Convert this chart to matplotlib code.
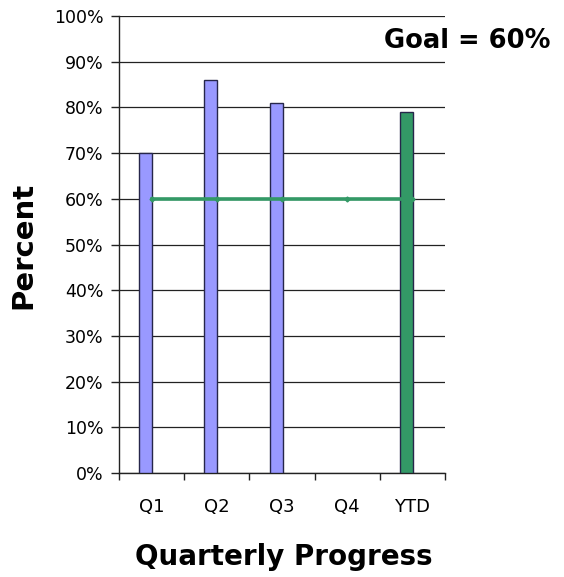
import numpy as np
import matplotlib
matplotlib.use("Agg")
import matplotlib.pyplot as plt
from matplotlib.ticker import FixedLocator, FuncFormatter

categories = ["Q1", "Q2", "Q3", "Q4", "YTD"]
values = [70, 86, 81, np.nan, 79]
goal = [60, 60, 60, 60, 60]
bar_colors = ["#9999FF", "#9999FF", "#9999FF", "#9999FF", "#339966"]
yticks = [0, 10, 20, 30, 40, 50, 60, 70, 80, 90, 100]

fig = plt.figure(figsize=(5.64, 5.77), dpi=100)
ax = fig.add_axes([119/564, 1-473/577, (445-119)/564, (473-16)/577])

x = np.arange(len(categories))
ax.bar(x - 0.09, values, width=0.2, color=bar_colors, edgecolor="#26264a", linewidth=1, zorder=3)
ax.plot(x, goal, color="#339966", linewidth=2.6, marker="D", markersize=2.5, zorder=4)

ax.set_xlim(-0.5, len(categories) - 0.5)
ax.set_ylim(0, 100)
ax.yaxis.set_major_locator(FixedLocator(yticks))
ax.yaxis.set_major_formatter(FuncFormatter(lambda v, p: f"{int(v)}%"))
ax.grid(axis="y", color="#222222", linewidth=0.9, zorder=0)
ax.set_axisbelow(True)

ax.set_xticks(x)
ax.set_xticklabels(categories)
ax.set_xticks(np.arange(len(categories) + 1) - 0.5, minor=True)
ax.tick_params(axis="x", which="major", length=0, pad=18, labelsize=13)
ax.tick_params(axis="x", which="minor", length=5, width=1, color="#222222", direction="out")
ax.tick_params(axis="y", length=6, width=1, color="#222222", pad=5, labelsize=12.5)

for s in ["top", "right"]:
    ax.spines[s].set_visible(False)
for s in ["left", "bottom"]:
    ax.spines[s].set_color("#222222")
    ax.spines[s].set_linewidth(1)

fig.text(23/564, 1-245/577, "Percent", rotation=90, fontsize=21, fontweight="bold",
         ha="center", va="center")
fig.text(284/564, 1-557/577, "Quarterly Progress", fontsize=20, fontweight="bold",
         ha="center", va="center")
fig.text(550/564, 1-41/577, "Goal = 60%", fontsize=18.5, fontweight="bold",
         ha="right", va="center")

fig.savefig("out.png", dpi=100)
